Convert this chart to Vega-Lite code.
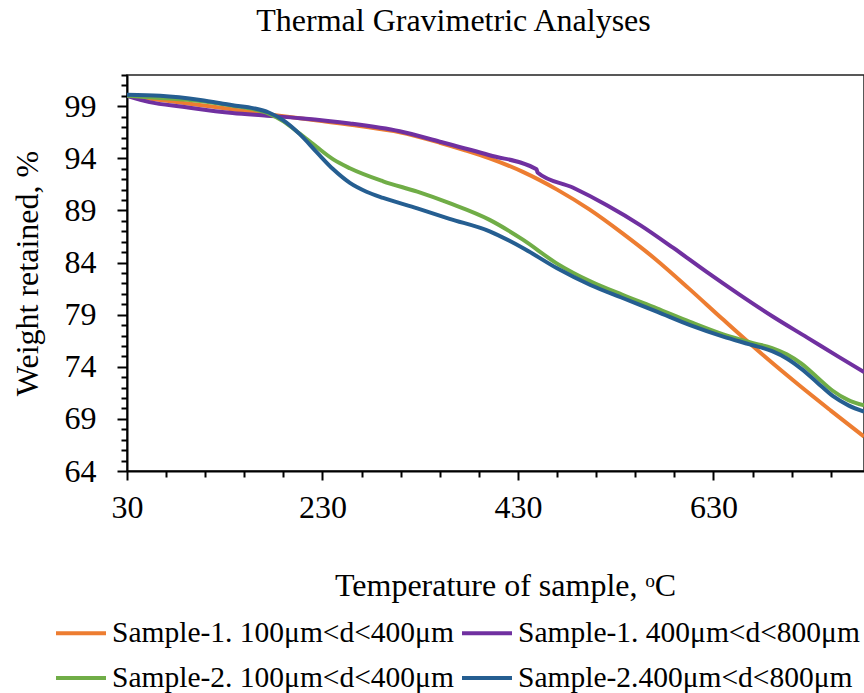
{
  "$schema": "https://vega.github.io/schema/vega-lite/v6.json",
  "autosize": "none",
  "width": 737,
  "height": 396,
  "padding": {"left": 127, "top": 75, "right": 0, "bottom": 222},
  "background": "white",
  "title": {
    "text": "Thermal Gravimetric Analyses",
    "font": "Liberation Serif",
    "fontSize": 32,
    "fontWeight": "normal",
    "color": "black",
    "anchor": "middle",
    "offset": 21,
    "dx": -42
  },
  "config": {
    "view": {"stroke": "#222", "strokeWidth": 1.5},
    "font": "Liberation Serif"
  },
  "data": {
    "values": [
      {"t": 30, "w": 100.0, "s": "Sample-1. 100μm<d<400μm"},
      {"t": 64, "w": 99.6, "s": "Sample-1. 100μm<d<400μm"},
      {"t": 98, "w": 99.2, "s": "Sample-1. 100μm<d<400μm"},
      {"t": 126, "w": 98.85, "s": "Sample-1. 100μm<d<400μm"},
      {"t": 146, "w": 98.6, "s": "Sample-1. 100μm<d<400μm"},
      {"t": 166, "w": 98.35, "s": "Sample-1. 100μm<d<400μm"},
      {"t": 186, "w": 98.1, "s": "Sample-1. 100μm<d<400μm"},
      {"t": 227, "w": 97.6, "s": "Sample-1. 100μm<d<400μm"},
      {"t": 268, "w": 97.1, "s": "Sample-1. 100μm<d<400μm"},
      {"t": 309, "w": 96.5, "s": "Sample-1. 100μm<d<400μm"},
      {"t": 350, "w": 95.5, "s": "Sample-1. 100μm<d<400μm"},
      {"t": 375, "w": 94.8, "s": "Sample-1. 100μm<d<400μm"},
      {"t": 401, "w": 94.0, "s": "Sample-1. 100μm<d<400μm"},
      {"t": 435, "w": 92.7, "s": "Sample-1. 100μm<d<400μm"},
      {"t": 470, "w": 91.0, "s": "Sample-1. 100μm<d<400μm"},
      {"t": 503, "w": 89.1, "s": "Sample-1. 100μm<d<400μm"},
      {"t": 537, "w": 86.8, "s": "Sample-1. 100μm<d<400μm"},
      {"t": 571, "w": 84.3, "s": "Sample-1. 100μm<d<400μm"},
      {"t": 605, "w": 81.5, "s": "Sample-1. 100μm<d<400μm"},
      {"t": 639, "w": 78.6, "s": "Sample-1. 100μm<d<400μm"},
      {"t": 681, "w": 75.1, "s": "Sample-1. 100μm<d<400μm"},
      {"t": 718, "w": 72.2, "s": "Sample-1. 100μm<d<400μm"},
      {"t": 750, "w": 69.8, "s": "Sample-1. 100μm<d<400μm"},
      {"t": 784, "w": 67.3, "s": "Sample-1. 100μm<d<400μm"},

      {"t": 30, "w": 100.0, "s": "Sample-1. 400μm<d<800μm"},
      {"t": 53, "w": 99.4, "s": "Sample-1. 400μm<d<800μm"},
      {"t": 87, "w": 98.95, "s": "Sample-1. 400μm<d<800μm"},
      {"t": 138, "w": 98.35, "s": "Sample-1. 400μm<d<800μm"},
      {"t": 173, "w": 98.1, "s": "Sample-1. 400μm<d<800μm"},
      {"t": 207, "w": 97.85, "s": "Sample-1. 400μm<d<800μm"},
      {"t": 258, "w": 97.35, "s": "Sample-1. 400μm<d<800μm"},
      {"t": 309, "w": 96.6, "s": "Sample-1. 400μm<d<800μm"},
      {"t": 350, "w": 95.6, "s": "Sample-1. 400μm<d<800μm"},
      {"t": 401, "w": 94.3, "s": "Sample-1. 400μm<d<800μm"},
      {"t": 449, "w": 92.95, "s": "Sample-1. 400μm<d<800μm"},
      {"t": 450, "w": 92.65, "s": "Sample-1. 400μm<d<800μm"},
      {"t": 486, "w": 91.2, "s": "Sample-1. 400μm<d<800μm"},
      {"t": 521, "w": 89.5, "s": "Sample-1. 400μm<d<800μm"},
      {"t": 555, "w": 87.6, "s": "Sample-1. 400μm<d<800μm"},
      {"t": 589, "w": 85.4, "s": "Sample-1. 400μm<d<800μm"},
      {"t": 623, "w": 83.1, "s": "Sample-1. 400μm<d<800μm"},
      {"t": 657, "w": 80.9, "s": "Sample-1. 400μm<d<800μm"},
      {"t": 691, "w": 78.8, "s": "Sample-1. 400μm<d<800μm"},
      {"t": 726, "w": 76.8, "s": "Sample-1. 400μm<d<800μm"},
      {"t": 759, "w": 74.9, "s": "Sample-1. 400μm<d<800μm"},
      {"t": 784, "w": 73.5, "s": "Sample-1. 400μm<d<800μm"},

      {"t": 30, "w": 100.0, "s": "Sample-2. 100μm<d<400μm"},
      {"t": 64, "w": 99.8, "s": "Sample-2. 100μm<d<400μm"},
      {"t": 105, "w": 99.5, "s": "Sample-2. 100μm<d<400μm"},
      {"t": 138, "w": 99.05, "s": "Sample-2. 100μm<d<400μm"},
      {"t": 160, "w": 98.7, "s": "Sample-2. 100μm<d<400μm"},
      {"t": 175, "w": 98.3, "s": "Sample-2. 100μm<d<400μm"},
      {"t": 190, "w": 97.55, "s": "Sample-2. 100μm<d<400μm"},
      {"t": 207, "w": 96.35, "s": "Sample-2. 100μm<d<400μm"},
      {"t": 224, "w": 95.1, "s": "Sample-2. 100μm<d<400μm"},
      {"t": 241, "w": 93.9, "s": "Sample-2. 100μm<d<400μm"},
      {"t": 258, "w": 93.05, "s": "Sample-2. 100μm<d<400μm"},
      {"t": 292, "w": 91.8, "s": "Sample-2. 100μm<d<400μm"},
      {"t": 327, "w": 90.8, "s": "Sample-2. 100μm<d<400μm"},
      {"t": 360, "w": 89.7, "s": "Sample-2. 100μm<d<400μm"},
      {"t": 401, "w": 88.1, "s": "Sample-2. 100μm<d<400μm"},
      {"t": 435, "w": 86.2, "s": "Sample-2. 100μm<d<400μm"},
      {"t": 470, "w": 83.9, "s": "Sample-2. 100μm<d<400μm"},
      {"t": 504, "w": 82.2, "s": "Sample-2. 100μm<d<400μm"},
      {"t": 537, "w": 80.9, "s": "Sample-2. 100μm<d<400μm"},
      {"t": 572, "w": 79.6, "s": "Sample-2. 100μm<d<400μm"},
      {"t": 606, "w": 78.3, "s": "Sample-2. 100μm<d<400μm"},
      {"t": 640, "w": 77.1, "s": "Sample-2. 100μm<d<400μm"},
      {"t": 667, "w": 76.35, "s": "Sample-2. 100μm<d<400μm"},
      {"t": 690, "w": 75.8, "s": "Sample-2. 100μm<d<400μm"},
      {"t": 705, "w": 75.2, "s": "Sample-2. 100μm<d<400μm"},
      {"t": 720, "w": 74.3, "s": "Sample-2. 100μm<d<400μm"},
      {"t": 736, "w": 73.0, "s": "Sample-2. 100μm<d<400μm"},
      {"t": 752, "w": 71.7, "s": "Sample-2. 100μm<d<400μm"},
      {"t": 768, "w": 70.8, "s": "Sample-2. 100μm<d<400μm"},
      {"t": 784, "w": 70.3, "s": "Sample-2. 100μm<d<400μm"},

      {"t": 30, "w": 100.1, "s": "Sample-2.400μm<d<800μm"},
      {"t": 64, "w": 100.0, "s": "Sample-2.400μm<d<800μm"},
      {"t": 105, "w": 99.6, "s": "Sample-2.400μm<d<800μm"},
      {"t": 138, "w": 99.1, "s": "Sample-2.400μm<d<800μm"},
      {"t": 160, "w": 98.8, "s": "Sample-2.400μm<d<800μm"},
      {"t": 175, "w": 98.4, "s": "Sample-2.400μm<d<800μm"},
      {"t": 190, "w": 97.65, "s": "Sample-2.400μm<d<800μm"},
      {"t": 207, "w": 96.3, "s": "Sample-2.400μm<d<800μm"},
      {"t": 224, "w": 94.6, "s": "Sample-2.400μm<d<800μm"},
      {"t": 241, "w": 92.95, "s": "Sample-2.400μm<d<800μm"},
      {"t": 258, "w": 91.65, "s": "Sample-2.400μm<d<800μm"},
      {"t": 275, "w": 90.8, "s": "Sample-2.400μm<d<800μm"},
      {"t": 292, "w": 90.2, "s": "Sample-2.400μm<d<800μm"},
      {"t": 327, "w": 89.2, "s": "Sample-2.400μm<d<800μm"},
      {"t": 360, "w": 88.2, "s": "Sample-2.400μm<d<800μm"},
      {"t": 401, "w": 87.0, "s": "Sample-2.400μm<d<800μm"},
      {"t": 435, "w": 85.4, "s": "Sample-2.400μm<d<800μm"},
      {"t": 470, "w": 83.45, "s": "Sample-2.400μm<d<800μm"},
      {"t": 504, "w": 81.85, "s": "Sample-2.400μm<d<800μm"},
      {"t": 537, "w": 80.6, "s": "Sample-2.400μm<d<800μm"},
      {"t": 572, "w": 79.3, "s": "Sample-2.400μm<d<800μm"},
      {"t": 606, "w": 78.0, "s": "Sample-2.400μm<d<800μm"},
      {"t": 640, "w": 76.9, "s": "Sample-2.400μm<d<800μm"},
      {"t": 667, "w": 76.15, "s": "Sample-2.400μm<d<800μm"},
      {"t": 690, "w": 75.5, "s": "Sample-2.400μm<d<800μm"},
      {"t": 705, "w": 74.8, "s": "Sample-2.400μm<d<800μm"},
      {"t": 720, "w": 73.8, "s": "Sample-2.400μm<d<800μm"},
      {"t": 736, "w": 72.5, "s": "Sample-2.400μm<d<800μm"},
      {"t": 752, "w": 71.2, "s": "Sample-2.400μm<d<800μm"},
      {"t": 768, "w": 70.3, "s": "Sample-2.400μm<d<800μm"},
      {"t": 784, "w": 69.7, "s": "Sample-2.400μm<d<800μm"}
    ]
  },
  "mark": {"type": "line", "strokeWidth": 4, "interpolate": "monotone", "clip": true},
  "encoding": {
    "x": {
      "field": "t",
      "type": "quantitative",
      "scale": {"domain": [30, 784], "nice": false, "zero": false},
      "axis": {
        "values": [30, 70, 110, 150, 190, 230, 270, 310, 350, 390, 430, 470, 510, 550, 590, 630, 670, 710, 750],
        "labelExpr": "(datum.value - 30) % 200 == 0 ? datum.label : ''",
        "grid": false,
        "domainColor": "black",
        "domainWidth": 2,
        "tickColor": "black",
        "tickWidth": 2,
        "tickSize": {"condition": {"test": "(datum.value - 30) % 200 == 0", "value": 9}, "value": 6},
        "labelFont": "Liberation Serif",
        "labelFontSize": 32,
        "labelColor": "black",
        "labelPadding": 12,
        "labelFlush": false,
        "labelOverlap": false,
        "title": "Temperature of sample, ᵒC",
        "titleFont": "Liberation Serif",
        "titleFontSize": 32,
        "titleFontWeight": "normal",
        "titleColor": "black",
        "titleX": 378,
        "titleY": 124,
        "titleBaseline": "alphabetic"
      }
    },
    "y": {
      "field": "w",
      "type": "quantitative",
      "scale": {"domain": [64, 102], "nice": false, "zero": false},
      "axis": {
        "values": [64, 65, 66, 67, 68, 69, 70, 71, 72, 73, 74, 75, 76, 77, 78, 79, 80, 81, 82, 83, 84, 85, 86, 87, 88, 89, 90, 91, 92, 93, 94, 95, 96, 97, 98, 99, 100, 101, 102],
        "labelExpr": "(datum.value - 64) % 5 == 0 ? datum.label : ''",
        "grid": false,
        "domainColor": "black",
        "domainWidth": 2,
        "tickColor": "black",
        "tickWidth": 2,
        "tickSize": {"condition": {"test": "(datum.value - 64) % 5 == 0", "value": 10}, "value": 6},
        "labelFont": "Liberation Serif",
        "labelFontSize": 32,
        "labelColor": "black",
        "labelPadding": 21,
        "labelOverlap": false,
        "title": "Weight retained, %",
        "titleFont": "Liberation Serif",
        "titleFontSize": 32,
        "titleFontWeight": "normal",
        "titleColor": "black",
        "titleX": -90,
        "titleY": 198,
        "titleAngle": -90,
        "titleAlign": "center",
        "titleBaseline": "alphabetic"
      }
    },
    "color": {
      "field": "s",
      "type": "nominal",
      "scale": {
        "domain": ["Sample-1. 100μm<d<400μm", "Sample-1. 400μm<d<800μm", "Sample-2. 100μm<d<400μm", "Sample-2.400μm<d<800μm"],
        "range": ["#ED7D31", "#7030A0", "#70AD47", "#255E91"]
      },
      "legend": {
        "orient": "none",
        "legendX": -73,
        "legendY": 531,
        "columns": 2,
        "direction": "horizontal",
        "title": null,
        "symbolType": "stroke",
        "symbolSize": 2500,
        "symbolStrokeWidth": 4,
        "labelFont": "Liberation Serif",
        "labelFontSize": 29.5,
        "labelColor": "black",
        "labelOffset": 4,
        "labelLimit": 0,
        "columnPadding": 0,
        "rowPadding": 3
      }
    }
  }
}
